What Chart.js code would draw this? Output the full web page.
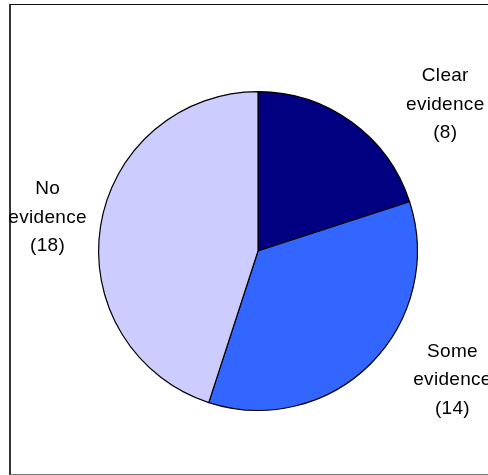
<!DOCTYPE html>
<html>
<head>
<meta charset="utf-8">
<script src="https://cdn.jsdelivr.net/npm/chart.js@4/dist/chart.umd.min.js"></script>
<style>
    html, body { margin: 0; padding: 0; background: #fff; overflow: hidden; }
    #wrap { position: relative; width: 488px; height: 475px; }
    #frame {
        position: absolute; left: 9px; top: 4px; width: 500px; height: 471px;
        border-top: 1px solid #111; border-left: 2px solid #333; border-bottom: 1px solid #777;
        box-sizing: border-box;
    }
    canvas { position: absolute; left: 0; top: 0; }
</style>
</head>
<body>
<div id="wrap">
    <div id="frame"></div>
    <canvas id="pieChart" width="488" height="475"></canvas>
</div>
<script>
const categories = ['Clear evidence', 'Some evidence', 'No evidence'];
const labelLines = [
    ['Clear', 'evidence', '(8)'],
    ['Some', 'evidence', '(14)'],
    ['No', 'evidence', '(18)']
];
const counts = [8, 14, 18];
const sliceColors = ['#000080', '#3366FF', '#CCCCFF'];

// where each label sits, in units of the pie radius from its centre
const labelPos = [[1.175, -0.92], [1.22, 0.81], [-1.32, -0.21]];

const outsideLabels = {
    id: 'outsideLabels',
    afterDraw(chart) {
        const ctx = chart.ctx;
        const meta = chart.getDatasetMeta(0);
        ctx.save();
        ctx.font = '19px "Liberation Sans", Arial, sans-serif';
        ctx.letterSpacing = '0.3px';
        ctx.fillStyle = '#000';
        ctx.textAlign = 'center';
        ctx.textBaseline = 'middle';
        meta.data.forEach((arc, i) => {
            const r = arc.outerRadius;
            const cx = arc.x + labelPos[i][0] * r;
            const cy = arc.y + labelPos[i][1] * r;
            const lines = labelLines[i];
            const lh = 28.5;
            lines.forEach((t, j) => {
                ctx.fillText(t, cx, cy + (j - (lines.length - 1) / 2) * lh);
            });
        });
        ctx.restore();
    }
};

let pieCtx = document.getElementById('pieChart');
const pieChart = new Chart(pieCtx, {
    type: 'pie',
    data: {
        labels: categories,
        datasets: [{
            data: counts,
            backgroundColor: sliceColors,
            borderColor: '#000',
            borderWidth: 1.2
        }]
    },
    options: {
        responsive: false,
        animation: false,
        layout: {
            padding: { left: 98, top: 91, right: 70, bottom: 64 }
        },
        plugins: {
            legend: { display: false },
            tooltip: { enabled: false }
        }
    },
    plugins: [outsideLabels]
});
</script>
</body>
</html>
